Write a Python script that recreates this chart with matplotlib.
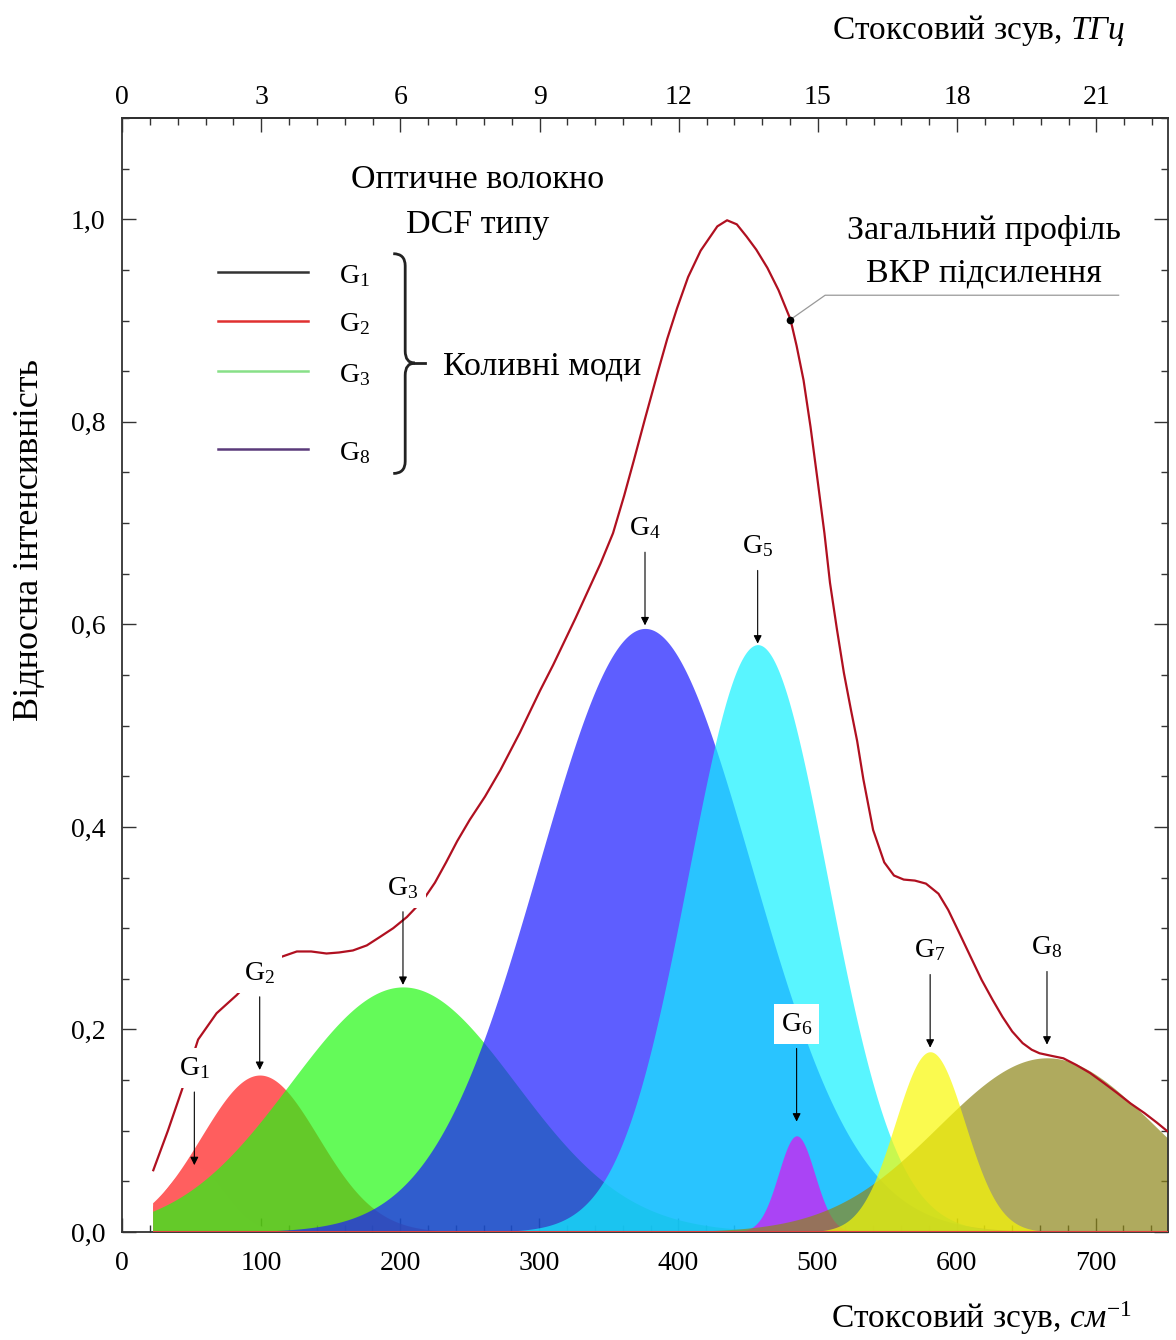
import numpy as np
import matplotlib.pyplot as plt
from matplotlib.path import Path
from matplotlib.patches import PathPatch
from matplotlib.ticker import MultipleLocator, FixedLocator, FuncFormatter

plt.rcParams['font.family'] = ['Liberation Serif', 'DejaVu Serif']
plt.rcParams['mathtext.fontset'] = 'custom'
plt.rcParams['mathtext.rm'] = 'Liberation Serif'
plt.rcParams['mathtext.it'] = 'Liberation Serif:italic'
plt.rcParams['mathtext.default'] = 'regular'

# Коливні моди (гаусові компоненти): центр, см-1; амплітуда; ширина (сигма), см-1
mode_names = ['1', '2', '3', '4', '5', '6', '7', '8']
mode_center = [52, 99, 202, 376, 457, 485, 581, 665]
mode_height = [0.065, 0.155, 0.242, 0.596, 0.58, 0.095, 0.178, 0.172]
mode_sigma = [22, 42, 81, 76.5, 50, 13, 25, 78]
mode_color = ['#ff5f5f', '#ff1a1a', '#22f813', '#1a1aff', '#13f1ff',
              '#aa44f5', '#f8f805', '#8d861a']
mode_alpha = [1.0, 0.7, 0.7, 0.7, 0.7, 1.0, 0.7, 0.7]
draw_order = [1, 0, 2, 3, 4, 5, 7, 6]
arrow_gap = [0.001, 0.005, 0.002, 0.003, 0.001, 0.014, 0.004, 0.013]

# Загальний профіль ВКР підсилення
env_shift = [22.5, 33, 43, 54.7, 68, 82.5, 97, 111, 125.7, 136, 147, 156, 166,
             176, 185.6, 195, 204.8, 216.6, 225, 233, 241, 250, 261, 272, 286,
             300.7, 310, 318, 326, 334, 344, 353, 361, 368, 376, 385, 392, 399,
             407, 416, 421, 428, 435, 442, 449, 456, 464, 472, 480.6, 485, 490,
             495, 500, 505, 509, 514, 519, 524, 528.5, 533, 540, 548, 555, 562,
             570, 578, 587, 594, 601, 610, 618, 626, 633, 640, 647.5, 654,
             659.6, 668, 676.8, 686, 696, 706, 715.7, 725, 735, 744, 752]
env_int = [0.061, 0.1, 0.14, 0.19, 0.216, 0.234, 0.255, 0.27, 0.277, 0.277,
           0.275, 0.276, 0.278, 0.283, 0.2915, 0.3, 0.311, 0.328, 0.345, 0.365,
           0.386, 0.407, 0.43, 0.456, 0.493, 0.535, 0.56, 0.583, 0.606, 0.63,
           0.66, 0.69, 0.727, 0.762, 0.803, 0.848, 0.882, 0.912, 0.943, 0.969,
           0.979, 0.993, 0.999, 0.995, 0.983, 0.97, 0.952, 0.93, 0.901, 0.875,
           0.841, 0.795, 0.743, 0.69, 0.641, 0.595, 0.552, 0.516, 0.485, 0.447,
           0.397, 0.365, 0.352, 0.348, 0.347, 0.344, 0.334, 0.318, 0.298, 0.272,
           0.249, 0.229, 0.2125, 0.198, 0.1865, 0.18, 0.1765, 0.174, 0.1715,
           0.165, 0.157, 0.147, 0.137, 0.127, 0.1175, 0.108, 0.099]
marker_idx = env_shift.index(480.6)

# легенда
legend_names = ['1', '2', '3', '8']
legend_colors = ['#333333', '#e03030', '#88e088', '#5a3a7a']
legend_y = [0.948, 0.900, 0.850, 0.773]

CM_PER_THZ = 33.3564

fig = plt.figure(figsize=(11.76, 13.4), dpi=100)
ax = fig.add_axes([122/1176, 1 - 1232/1340, 1046/1176, 1114/1340])

x = np.linspace(22, 752, 1200)
for i in draw_order:
    y = mode_height[i] * np.exp(-0.5 * ((x - mode_center[i]) / mode_sigma[i])**2)
    ax.fill_between(x, 0, y, color=mode_color[i], alpha=mode_alpha[i],
                    lw=0, zorder=2)
ax.hlines(0, x[0], x[-1], color='#e04040', lw=1.5, zorder=3)

ax.plot(env_shift, env_int, color='#b01020', lw=1.6, zorder=3,
        solid_joinstyle='round')
ax.plot(env_shift[marker_idx], env_int[marker_idx], 'o', color='black',
        ms=4.5, zorder=4)

# підписи мод зі стрілками
for i in range(len(mode_names)):
    ax.annotate(f'G$_{{{mode_names[i]}}}$',
                xy=(mode_center[i], mode_height[i] + arrow_gap[i]),
                xytext=(0, 70), textcoords='offset points',
                ha='center', va='center', fontsize=20, zorder=6,
                bbox=dict(boxstyle='square,pad=0.25', fc='white', ec='none'),
                arrowprops=dict(arrowstyle='-|>', color='black', lw=0.8,
                                shrinkA=3, shrinkB=0, mutation_scale=12))

# виноска до загального профілю
mx, my = env_shift[marker_idx], env_int[marker_idx]
ax.plot([mx, 505.5, 716.5], [my, 0.925, 0.925], color='#999999', lw=0.9, zorder=3)
ax.text(620, 0.989, 'Загальний профіль', ha='center', va='center', fontsize=24.5)
ax.text(620, 0.947, 'ВКР підсилення', ha='center', va='center', fontsize=24.5)

ax.text(255.4, 1.039, 'Оптичне волокно', ha='center', va='center', fontsize=24.5)
ax.text(255.4, 0.995, 'DCF типу', ha='center', va='center', fontsize=24.5)

# легенда з фігурною дужкою
for name, col, yy in zip(legend_names, legend_colors, legend_y):
    ax.plot([69, 134], [yy, yy], color=col, lw=1.8)
    ax.text(167, yy - 0.004, f'G$_{{{name}}}$', ha='center', va='center', fontsize=20)

bx0, bx1, btip, bend = 195, 203.6, 210.5, 218
yt, ym, yb = 0.966, 0.858, 0.749
brace = Path([(bx0, yt), (bx1, yt), (bx1, yt - 0.012),
              (bx1, ym + 0.012),
              (bx1, ym), (btip, ym),
              (bx1, ym), (bx1, ym - 0.012),
              (bx1, yb + 0.012),
              (bx1, yb), (bx0, yb)],
             [Path.MOVETO, Path.CURVE3, Path.CURVE3,
              Path.LINETO,
              Path.CURVE3, Path.CURVE3,
              Path.CURVE3, Path.CURVE3,
              Path.LINETO,
              Path.CURVE3, Path.CURVE3])
ax.add_patch(PathPatch(brace, fc='none', ec='#222222', lw=2.0))
ax.plot([btip, bend], [ym, ym], color='#222222', lw=2.0)
ax.text(302, 0.855, 'Коливні моди', ha='center', va='center', fontsize=24.5)

# осі
ax.set_xlim(0, 752)
ax.set_ylim(0, 1.1)
ax.xaxis.set_major_locator(MultipleLocator(100))
ax.xaxis.set_minor_locator(MultipleLocator(20))
ax.yaxis.set_major_locator(MultipleLocator(0.2))
ax.yaxis.set_minor_locator(MultipleLocator(0.05))
ax.yaxis.set_major_formatter(FuncFormatter(lambda v, p: f'{v:.1f}'.replace('.', ',')))
ax.tick_params(which='both', direction='in', top=False, right=True, width=1.0,
               colors='#333333', labelcolor='black')
ax.tick_params(which='major', length=10)
ax.tick_params(which='minor', length=5)
ax.tick_params(axis='x', labelsize=20, pad=14)
ax.tick_params(axis='y', labelsize=20, pad=12)
for sp in ax.spines.values():
    sp.set_linewidth(1.3)
    sp.set_color('#333333')

top = ax.secondary_xaxis('top', functions=(lambda c: c / CM_PER_THZ,
                                           lambda t: t * CM_PER_THZ))
top.xaxis.set_major_locator(FixedLocator(list(range(0, 22, 3))))
top.xaxis.set_minor_locator(FixedLocator([k * 0.6 for k in range(38)]))
top.tick_params(which='both', direction='in', width=1.0, labelsize=20, pad=6,
                colors='#333333', labelcolor='black')
top.tick_params(which='major', length=10)
top.tick_params(which='minor', length=5)
top.spines['top'].set_linewidth(1.3)

fig.text(1125/1176, 1 - 30/1340, 'Стоксовий зсув, $\\mathit{ТГц}$',
         ha='right', va='center', fontsize=24)
fig.text(1132/1176, 1 - 1318/1340, 'Стоксовий зсув, $\\mathit{см}^{-1}$',
         ha='right', va='center', fontsize=24)
fig.text(30/1176, 1 - 540/1340, 'Відносна інтенсивність', rotation=90,
         ha='center', va='center', fontsize=26)

fig.savefig('out.png', dpi=100)
